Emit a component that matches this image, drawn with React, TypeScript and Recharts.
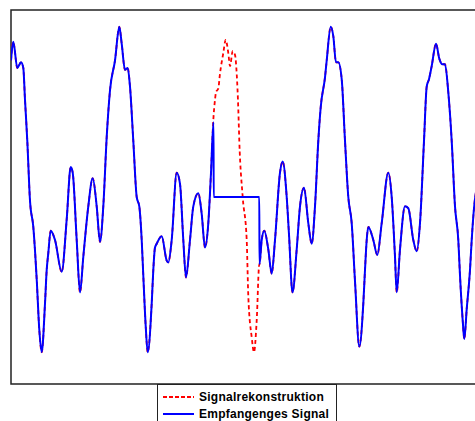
import { LineChart, Line, XAxis, YAxis, ReferenceArea } from "recharts";

// received signal: [sample, amplitude]; the lost block is held at 0 between 202.7 and 248.3
const received: [number, number][] = [
  [0, 0.73], [2.3, 0.83], [6.3, 0.69], [10, 0.72], [12.3, 0.69], [14, 0.52], [16.3, 0.3],
  [19, -0.02], [22.3, -0.16], [25.7, -0.44], [28.3, -0.71], [30.7, -0.83], [34, -0.57],
  [35.7, -0.39], [37.3, -0.3], [39.7, -0.18], [44, -0.23], [50.7, -0.4], [55.7, -0.12],
  [59.7, 0.16], [61.7, 0.13], [65.7, -0.23], [69, -0.51], [72.3, -0.32], [77.3, -0.05],
  [81.7, 0.1], [85.7, -0.05], [89, -0.24], [92.3, -0.05], [95.7, 0.32], [99, 0.57],
  [104, 0.73], [108.3, 0.91], [110.7, 0.82], [114, 0.68], [116.7, 0.69], [119, 0.59],
  [122.3, 0.3], [125.7, 0], [128.3, -0.05], [130.7, -0.23], [132.3, -0.42], [134.7, -0.69],
  [136.7, -0.83], [140.7, -0.57], [142.3, -0.39], [144, -0.27], [145.7, -0.25], [150.7, -0.21],
  [155.7, -0.34], [157.3, -0.35], [160.7, -0.23], [165.7, 0.13], [169, 0.07], [172.3, -0.23],
  [175, -0.43], [179, -0.23], [182.3, -0.05], [187.3, 0.02], [190.7, -0.09], [194, -0.27],
  [197.3, -0.14], [200, 0.13], [202.5, 0.4], [202.7, 0], [248.3, 0], [248.5, -0.36],
  [250.7, -0.23], [253.3, -0.18], [257.3, -0.28], [260.7, -0.41], [264, -0.23], [269, 0.13],
  [271.7, 0.19], [275.7, 0], [278, -0.2], [281.5, -0.51], [285.7, -0.28], [289, -0.05],
  [293, 0.05], [297.3, -0.14], [300.7, -0.25], [304, -0.05], [307.3, 0.3], [309.7, 0.48],
  [314, 0.64], [315.7, 0.73], [319.7, 0.91], [322.3, 0.86], [325, 0.72], [327.3, 0.72],
  [330.7, 0.63], [334, 0.3], [337.3, 0], [340.7, -0.14], [344, -0.45], [348.3, -0.8],
  [352.3, -0.57], [354, -0.39], [355.7, -0.23], [357.3, -0.16], [362.3, -0.23], [366.3, -0.31],
  [370.7, -0.14], [377.3, 0.13], [380.7, 0], [384, -0.32], [385.7, -0.51], [389, -0.28],
  [394, -0.05], [397.3, -0.06], [402.3, -0.23], [405.7, -0.29], [409, -0.14], [413, 0.3],
  [415.7, 0.59], [418, 0.63], [420.7, 0.7], [425, 0.82], [428.3, 0.74], [431.3, 0.71],
  [434, 0.71], [437.3, 0.56], [440.7, 0.3], [444, -0.05], [447.3, -0.23], [449, -0.42],
  [451.7, -0.66], [453.3, -0.76], [455.7, -0.6], [459, -0.39], [460.7, -0.23], [463, -0.06],
  [466, 0.06],
];

// reconstruction inside the lost block
const reconstructedGap: [number, number][] = [
  [202.3, 0.41], [204, 0.52], [205, 0.56], [207.3, 0.58], [209, 0.66], [212.3, 0.77],
  [214.7, 0.84], [217.3, 0.77], [219, 0.7], [221.7, 0.78], [224, 0.76], [225.7, 0.66],
  [227.3, 0.47], [228.3, 0.3], [231.7, 0], [235.7, -0.23], [237.3, -0.53], [240.7, -0.75],
  [243, -0.83], [245.7, -0.66], [248.3, -0.36],
];

const gapStart = 202.3;
const gapEnd = 248.3;

const seriesNames = ["Signalrekonstruktion", "Empfangenges Signal"];

const toRows = (pts: [number, number][]) => pts.map(([t, v]) => ({ t, v }));

const receivedData = toRows(received);
const reconstructionData = toRows([
  ...received.filter(([t]) => t < gapStart),
  ...reconstructedGap,
  ...received.filter(([t]) => t > gapEnd + 0.1),
]);

function LegendBox() {
  return (
    <div
      style={{
        position: "absolute",
        left: 157,
        top: 384,
        width: 178,
        height: 44,
        border: "1.5px solid #222",
        background: "#fff",
        fontFamily: "'Liberation Sans', Arial, sans-serif",
        fontWeight: "bold",
        fontSize: 12,
        letterSpacing: 0.25,
        color: "#000",
      }}
    >
      {seriesNames.map((name, i) => (
        <div key={name} style={{ position: "absolute", left: 5, top: 5 + i * 17, height: 14, display: "flex", alignItems: "center" }}>
          <svg width={31} height={6} style={{ marginRight: 5 }}>
            <line
              x1={0}
              x2={31}
              y1={3}
              y2={3}
              stroke={i === 0 ? "#ff0000" : "#0000ff"}
              strokeWidth={2}
              strokeDasharray={i === 0 ? "4 2" : undefined}
            />
          </svg>
          <span>{name}</span>
        </div>
      ))}
    </div>
  );
}

export default function App() {
  return (
    <div style={{ position: "absolute", left: 0, top: 0, width: 475, height: 421, overflow: "hidden", background: "#fff" }}>
      <LineChart width={520} height={421} margin={{ top: 10, right: 9, left: 11, bottom: 37 }}>
        <XAxis type="number" dataKey="t" domain={[0, 500]} hide allowDataOverflow />
        <YAxis type="number" dataKey="v" domain={[-1, 1]} hide allowDataOverflow />
        <ReferenceArea x1={0} x2={500} y1={-1} y2={1} fill="none" stroke="#222" strokeWidth={1.5} />
        <Line
          data={reconstructionData}
          dataKey="v"
          type="monotone"
          stroke="#ff0000"
          strokeWidth={1.8}
          strokeDasharray="4 3"
          dot={false}
          isAnimationActive={false}
        />
        <Line
          data={receivedData}
          dataKey="v"
          type="monotone"
          stroke="#0000ff"
          strokeWidth={2}
          dot={false}
          isAnimationActive={false}
        />
      </LineChart>
      <LegendBox />
    </div>
  );
}
